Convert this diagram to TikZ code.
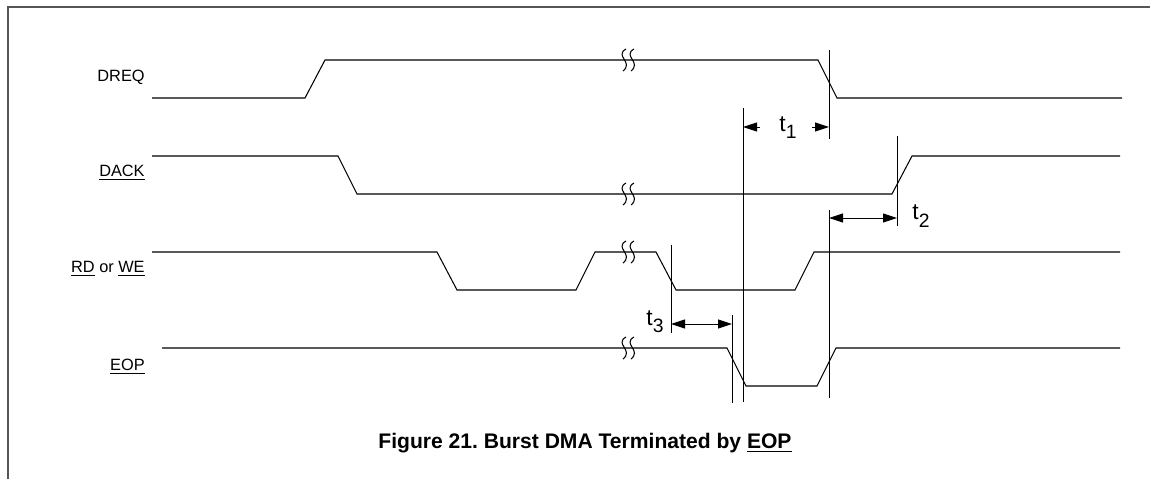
\documentclass[tikz,border=0pt]{standalone}
\usepackage{fontspec}
\setmainfont{Liberation Sans}
\usetikzlibrary{arrows.meta,calc}
\definecolor{dFrame}{RGB}{85,85,85}
\frenchspacing
\tikzset{
  wave/.style={line width=0.6pt, draw=black},
  vmark/.style={line width=0.45pt, draw=black},
  dimarr/.style={{Triangle[length=2.8mm,width=1.8mm]}-{Triangle[length=2.8mm,width=1.8mm]},
                 line width=0.5pt},
  halfarr/.style={-{Triangle[length=2.8mm,width=1.8mm]}, line width=0.5pt},
  siglbl/.style={anchor=east, font=\fontsize{9.3}{10}\selectfont, inner sep=0pt},
  tlbl/.style={font=\fontsize{13}{13}\selectfont, inner sep=0pt},
  figcap/.style={font=\fontsize{12}{14}\selectfont\bfseries, inner sep=0pt},
  brk/.pic={
    \draw[line width=0.6pt] (-1,-11) .. controls (-13,-4) and (7,2) .. (-4,11);
    \draw[line width=0.6pt] (7,-11) .. controls (-5,-4) and (15,2) .. (4,11);},
}
\newcommand{\tsub}[1]{t\raisebox{-0.6ex}{\fontsize{11}{11}\selectfont #1}}

\begin{document}
\begin{tikzpicture}[x=0.02cm, y=-0.02cm]
  \useasboundingbox (0,0) rectangle (1150,479);
  \draw[dFrame, line width=1.1pt] (8,479) -- (8,7) -- (1150,7);

  % signal names
  \node[siglbl] (nDreq) at (145,77) {DREQ};
  \node[siglbl] (nDack) at (145,173) {\underline{DACK}};
  \node[siglbl] (nRdwe) at (145,269) {\underline{RD} or \underline{WE}};
  \node[siglbl] (nEop)  at (145,367) {\underline{EOP}};

  % waveforms
  \draw[wave] (152,98) -- (305,98) -- (325,60) -- (818,60) -- (837,98) -- (1122,98);
  \draw[wave] (152,156) -- (338,156) -- (357,194) -- (892,194) -- (912,156) -- (1120,156);
  \draw[wave] (152,252) -- (437,252) -- (457,290) -- (576,290) -- (595,252) -- (656,252)
              -- (676,290) -- (795,290) -- (814,252) -- (1120,252);
  \draw[wave] (162,348) -- (727,348) -- (746,386) -- (817,386) -- (836,348) -- (1120,348);
  \foreach \yy in {60,194,252,348}
    \pic at (627,\yy) {brk};

  % timing reference lines
  \coordinate (v1t) at (743,108); \coordinate (v1b) at (743,402);
  \coordinate (v2t) at (829,50);  \coordinate (v2b) at (829,139);
  \coordinate (v3t) at (829,210); \coordinate (v3b) at (829,398);
  \coordinate (v4t) at (897,136); \coordinate (v4b) at (897,226);
  \coordinate (v5t) at (671,245); \coordinate (v5b) at (671,333);
  \coordinate (v6t) at (732,315); \coordinate (v6b) at (732,403);
  \foreach \v in {v1,v2,v3,v4,v5,v6}
    \draw[vmark] (\v t) -- (\v b);

  % t1
  \coordinate (t1l) at (743,127); \coordinate (t1r) at (829,127);
  \draw[halfarr] ($(t1l)+(17,0)$) -- (t1l);
  \draw[halfarr] ($(t1r)-(17,0)$) -- (t1r);
  \node[tlbl] (lt1) at (788,128) {\tsub{1}};
  % t2
  \coordinate (t2l) at (829,218); \coordinate (t2r) at (897,218);
  \draw[dimarr] (t2l) -- (t2r);
  \node[tlbl] (lt2) at (921,216) {\tsub{2}};
  % t3
  \coordinate (t3l) at (671,324); \coordinate (t3r) at (732,324);
  \draw[dimarr] (t3l) -- (t3r);
  \node[tlbl] (lt3) at (655,322) {\tsub{3}};

  \node[figcap] (caption) at (585,443) {Figure 21. Burst DMA Terminated by \underline{EOP}};
\end{tikzpicture}
\end{document}
